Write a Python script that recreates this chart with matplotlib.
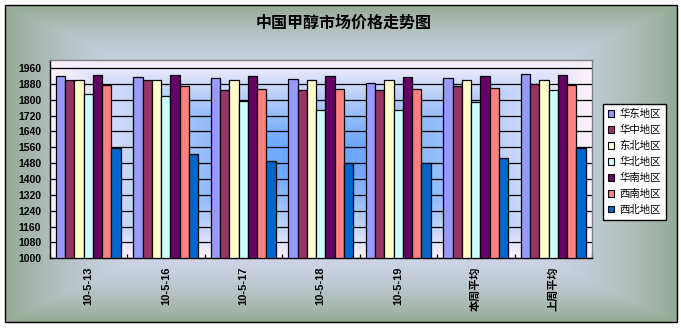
import numpy as np
import matplotlib
matplotlib.use("Agg")
import matplotlib.pyplot as plt
from matplotlib.patches import Rectangle, Patch

plt.rcParams['font.family'] = ['Liberation Sans', 'Noto Sans CJK SC']

# ---- data ----
categories = ['10-5-13', '10-5-16', '10-5-17', '10-5-18', '10-5-19', '本周平均', '上周平均']
regions = ['华东地区', '华中地区', '东北地区', '华北地区', '华南地区', '西南地区', '西北地区']
huadong = [1920, 1915, 1910, 1905, 1885, 1910, 1930]
huazhong = [1900, 1900, 1850, 1850, 1850, 1870, 1880]
dongbei = [1900, 1900, 1900, 1900, 1900, 1900, 1900]
huabei = [1830, 1820, 1795, 1750, 1750, 1790, 1850]
huanan = [1925, 1925, 1920, 1920, 1915, 1920, 1925]
xinan = [1875, 1870, 1855, 1855, 1855, 1860, 1875]
xibei = [1555, 1525, 1490, 1480, 1480, 1505, 1555]
series = [huadong, huazhong, dongbei, huabei, huanan, xinan, xibei]
colors = ['#9999ff', '#993366', '#ffffcc', '#ccffff', '#660066', '#ff8080', '#0066cc']
yticks = list(range(1000, 1961, 80))

W, H = 681, 328
fig = plt.figure(figsize=(W / 100, H / 100), dpi=100)


def rect_gradient(h, w, center, edge, power):
    y = np.linspace(-1, 1, h)[:, None]
    x = np.linspace(-1, 1, w)[None, :]
    t = np.maximum(np.abs(x) * np.ones_like(y), np.abs(y) * np.ones_like(x)) ** power
    c = np.array(matplotlib.colors.to_rgb(center))
    e = np.array(matplotlib.colors.to_rgb(edge))
    return c[None, None, :] + (e - c)[None, None, :] * t[:, :, None]


# chart area background with black frame
bg = fig.add_axes([0, 0, 1, 1], zorder=-10)
bg.set_axis_off()
bg.set_xlim(0, W)
bg.set_ylim(H, 0)
bg.add_patch(Rectangle((0, 0), W, H, facecolor='white', edgecolor='none'))
bg.imshow(rect_gradient(317, 672, '#dfe0ff', '#94aa94', 3.0),
          extent=(5, 677, 322, 5), aspect='auto', zorder=1)
bg.add_patch(Rectangle((5, 5), 672, 317, facecolor='none', edgecolor='black', lw=1.0, zorder=2))

# plot area
left, right, top, bottom = 49.5, 592, 60, 258.3
ax = fig.add_axes([left / W, (H - bottom) / H, (right - left) / W, (bottom - top) / H])
ax.set_facecolor('none')
ax.imshow(rect_gradient(200, 540, '#62a2fa', '#fff2fb', 1.3),
          extent=(0, 1, 0, 1), transform=ax.transAxes, aspect='auto', zorder=0)

n = len(series)
bw = 0.119
x = np.arange(len(categories))
for i, (vals, col) in enumerate(zip(series, colors)):
    ax.bar(x + (i - (n - 1) / 2) * bw, np.array(vals) - 1000, bottom=1000, width=bw,
           color=col, edgecolor='black', linewidth=0.9, zorder=3, label=regions[i])

ax.set_xlim(-0.5, len(categories) - 0.5)
ax.set_ylim(1000, 2000)
ax.set_yticks(yticks)
ax.set_yticklabels([str(v) for v in yticks], fontsize=7.5, fontweight='bold')
for v in yticks:
    ax.axhline(v, color='black', lw=0.9, zorder=1)

ax.set_xticks(x)
ax.set_xticklabels(categories, rotation=90, fontsize=8, fontweight='bold', va='top')
ax.set_xticks(np.arange(-0.5, len(categories)), minor=True)
ax.tick_params(axis='x', which='major', length=0, pad=6)
ax.tick_params(axis='x', which='minor', direction='in', length=3, width=0.9)
ax.tick_params(axis='y', length=0, pad=6)

for s in ['top', 'right']:
    ax.spines[s].set_color('#808080')
    ax.spines[s].set_linewidth(1.0)
for s in ['left', 'bottom']:
    ax.spines[s].set_color('black')
    ax.spines[s].set_linewidth(1.0)

fig.text(344 / W, 1 - 23 / H, '中国甲醇市场价格走势图', ha='center', va='center',
         fontsize=11.5, fontweight='bold', family=['Noto Sans CJK SC'])

handles = [Patch(facecolor=c, edgecolor='black', linewidth=0.8) for c in colors]
leg = fig.legend(handles, regions, loc='upper left',
                 bbox_to_anchor=(603 / W, 1 - 104 / H), frameon=True,
                 fancybox=False, edgecolor='black', framealpha=1, facecolor='white',
                 prop={'family': 'Noto Sans CJK SC', 'size': 7.5},
                 handlelength=0.6, handleheight=0.6, handletextpad=0.5,
                 labelspacing=0.55, borderpad=0.5, borderaxespad=0)
leg.get_frame().set_linewidth(1.0)

fig.savefig('out.png', dpi=100)
